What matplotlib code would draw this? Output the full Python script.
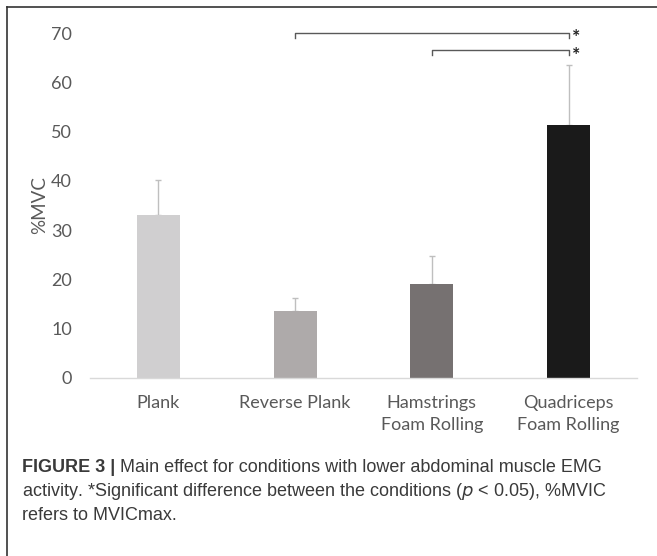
import numpy as np
import matplotlib.pyplot as plt

# Mean %MVC per condition with upward SD bars
conditions = ['Plank', 'Reverse Plank', 'Hamstrings\nFoam Rolling', 'Quadriceps\nFoam Rolling']
means = [33.0, 13.6, 19.1, 51.4]
sd = [7.1, 2.6, 5.6, 12.1]
bar_colors = ['#d0cfd0', '#aeaaaa', '#767171', '#1a1a1a']

# Significance brackets: (from bar, to bar, height)
brackets = [(1, 3, 70.0), (2, 3, 66.5)]

fig = plt.figure(figsize=(6.57, 5.56), dpi=100)
plt.rcParams['font.family'] = ['Lato', 'DejaVu Sans']

ax = fig.add_axes([90 / 657, 1 - 378 / 556, 547 / 657, 345 / 556])
x = np.arange(len(conditions))
ax.bar(x, means, width=0.315, color=bar_colors, zorder=2)
ax.errorbar(x, means, yerr=[np.zeros(len(sd)), sd], fmt='none',
            ecolor='#bfbfbf', elinewidth=1.0, capsize=2.5, capthick=1.0, zorder=1)

ax.set_xlim(-0.5, 3.5)
ax.set_ylim(0, 70)
ax.set_yticks(np.arange(0, 71, 10))
ax.set_xticks(x)
ax.set_xticklabels(conditions, fontsize=13, color='#595959', linespacing=1.45)
ax.tick_params(axis='y', length=0, pad=13, labelsize=13, labelcolor='#595959')
ax.tick_params(axis='x', length=0, pad=12)
ax.set_ylabel('%MVC', fontsize=13.5, color='#595959', labelpad=2)

for side in ['top', 'right', 'left']:
    ax.spines[side].set_visible(False)
ax.spines['bottom'].set_color('#d9d9d9')
ax.spines['bottom'].set_linewidth(1.0)

for a, b, h in brackets:
    ax.plot([a, a, b, b], [h - 1.0, h, h, h - 1.0], color='#595959', lw=1.0, clip_on=False)
    ax.text(b + 0.055, h - 1.0, '*', ha='center', va='center', fontsize=14,
            fontweight='bold', color='#222222', clip_on=False)

# Frame lines around the figure panel
fig.add_artist(plt.Line2D([7 / 657, 1], [1 - 7 / 556, 1 - 7 / 556], color='#333333', lw=1.2))
fig.add_artist(plt.Line2D([7 / 657, 7 / 657], [0, 1 - 7 / 556], color='#333333', lw=1.2))

# Caption
cap_kw = dict(fontsize=13.0, color='#3a3a3a', family=['Liberation Sans', 'DejaVu Sans'],
              ha='left', va='center')
y1 = 1 - 467 / 556
t = fig.text(22 / 657, y1, 'FIGURE 3 | ', fontweight='bold', **cap_kw)
fig.canvas.draw()
bb = t.get_window_extent()
fig.text(bb.x1 / 657, y1, 'Main effect for conditions with lower abdominal muscle EMG', **cap_kw)
fig.text(22 / 657, 1 - 491 / 556,
         'activity. *Significant difference between the conditions ($\\it{p}$ < 0.05), %MVIC',
         **cap_kw)
fig.text(22 / 657, 1 - 515 / 556, 'refers to MVICmax.', **cap_kw)

fig.savefig('out.png', dpi=100)
